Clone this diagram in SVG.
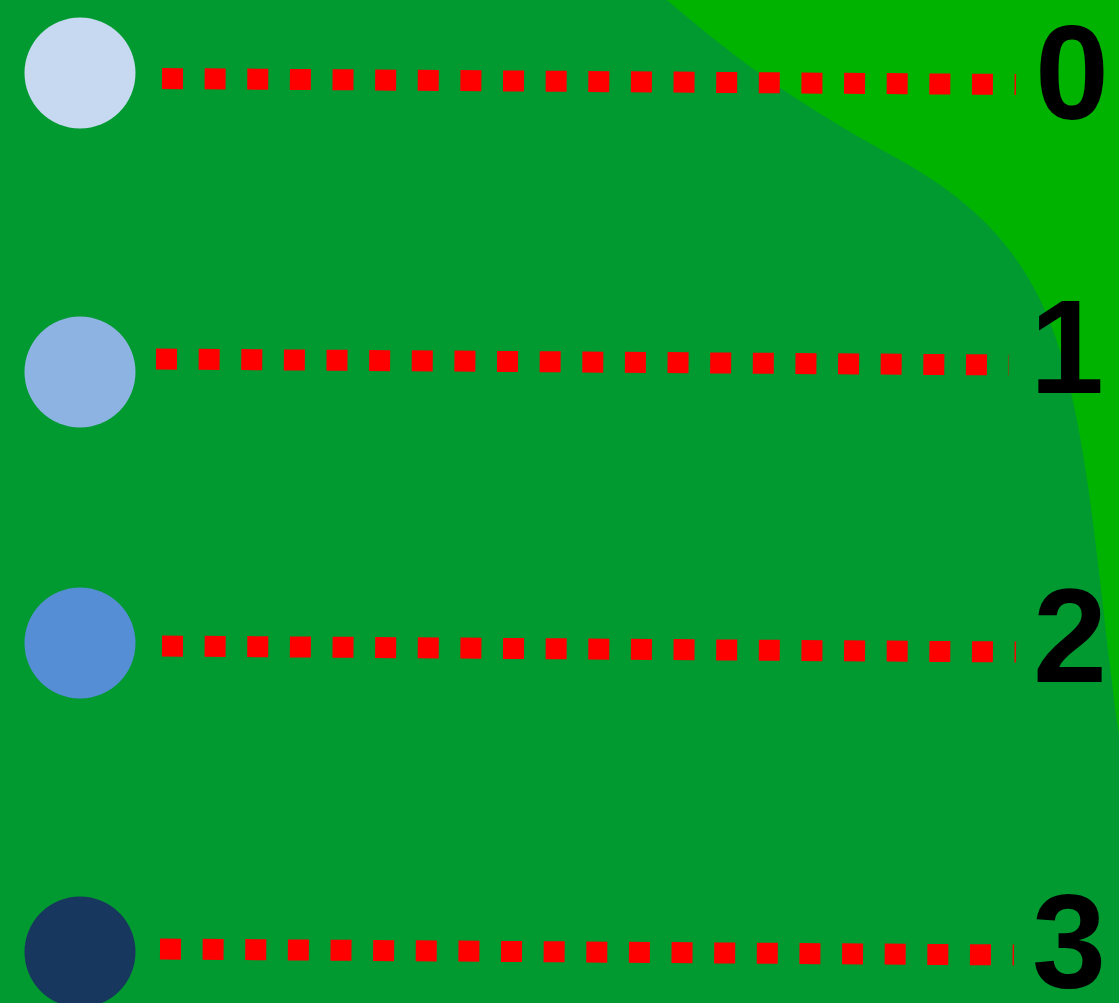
<svg xmlns="http://www.w3.org/2000/svg" width="1119" height="1003" viewBox="0 0 1119 1003">
  <style>
    .dot { stroke: #ff0000; stroke-width: 21; stroke-dasharray: 21 21.63; fill: none; }
    .lbl { font-family: "Liberation Sans", Arial, sans-serif; font-weight: bold; font-size: 133px; fill: #000000; text-anchor: middle; }
  </style>
  <rect id="background" x="0" y="0" width="1119" height="1003" fill="#009a30"/>
  <path id="corner" d="M667,0 C720,45 780,95 900,160 C980,205 1040,262 1068,380 C1093,480 1100,600 1119,736 L1119,0 Z" fill="#00b300"/>
  <g id="connectors">
    <line class="dot" x1="162" y1="78.5" x2="1016" y2="84.5"/>
    <line class="dot" x1="156" y1="359" x2="1009" y2="365"/>
    <line class="dot" x1="162" y1="646" x2="1016" y2="652"/>
    <line class="dot" x1="160" y1="949" x2="1014" y2="955"/>
  </g>
  <g id="node0"><circle cx="80" cy="73" r="55.5" fill="#c6d9f1"/></g>
  <g id="node1"><circle cx="80" cy="372" r="55.5" fill="#8db3e2"/></g>
  <g id="node2"><circle cx="80" cy="643" r="55.5" fill="#558ed5"/></g>
  <g id="node3"><circle cx="80" cy="952" r="55.5" fill="#17375e"/></g>
  <g id="label0"><text class="lbl" x="1072" y="119">0</text></g>
  <g id="label1"><text class="lbl" x="1067" y="393">1</text></g>
  <g id="label2"><text class="lbl" x="1070" y="682">2</text></g>
  <g id="label3"><text class="lbl" x="1069" y="988">3</text></g>
</svg>
